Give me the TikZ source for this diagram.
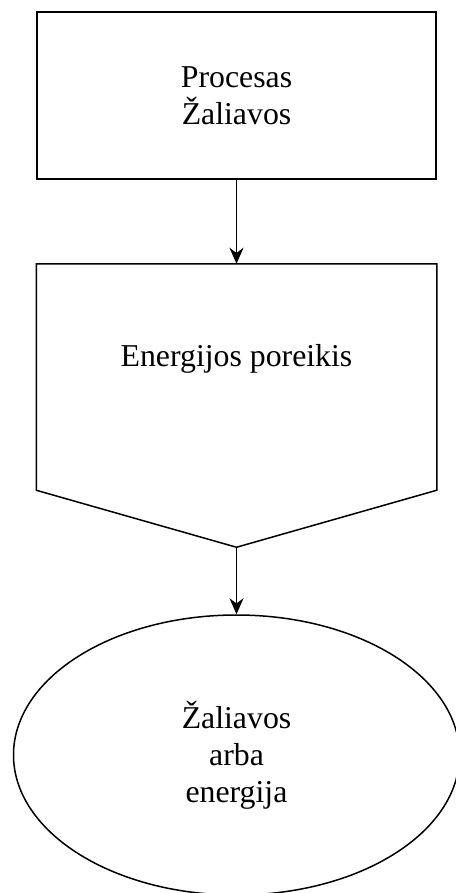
\documentclass[tikz,border=0pt]{standalone}
\usepackage{fontspec}
\setmainfont{Liberation Serif}
\usetikzlibrary{arrows.meta,positioning,shapes.geometric}
\tikzset{
  flowbox/.style={
    draw=black,
    line width=1.5pt,
    minimum width=399pt,
    minimum height=167pt,
    align=center,
    inner sep=0pt,
    font=\fontsize{31.8}{36.8}\selectfont
  },
  flowneed/.style={
    flowbox,
    draw=none,
    minimum height=225pt,
    text height=22pt,
    text depth=43pt
  },
  flowend/.style={
    flowbox,
    ellipse,
    minimum width=446pt,
    minimum height=280pt
  },
  flowarrow/.style={-{Stealth[length=16pt,width=14pt]},line width=1.5pt}
}

\begin{document}
\begin{tikzpicture}
  \useasboundingbox (0,0) rectangle (455pt,-893pt);
  \node[flowbox] (proc) at (236.5pt,-95.5pt) {Procesas\\Žaliavos};
  \node[flowneed,below=84pt of proc] (need) {Energijos poreikis};
  \coordinate[below=57pt of need.south] (needtip);
  \draw[line width=1.5pt] (need.north west) -- (need.north east) -- (need.south east)
    -- (needtip) -- (need.south west) -- cycle;
  \node[flowend,below=67pt of needtip] (res) {Žaliavos\\arba\\energija};
  \draw[flowarrow] (proc) -- (need);
  \draw[flowarrow] (needtip) -- (res);
\end{tikzpicture}
\end{document}
